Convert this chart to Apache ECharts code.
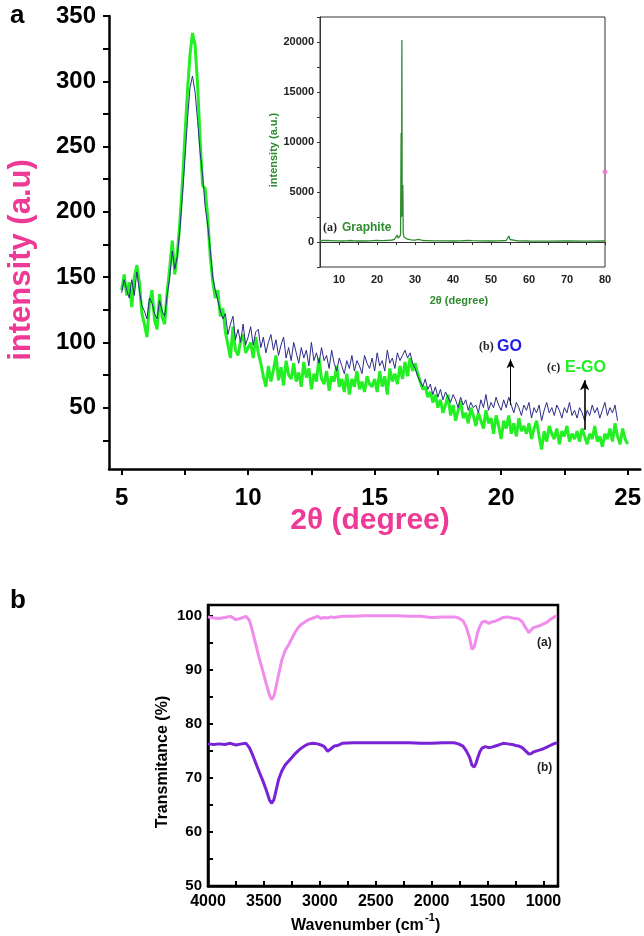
<!DOCTYPE html>
<html><head><meta charset="utf-8">
<script src="https://cdn.jsdelivr.net/npm/echarts@6/dist/echarts.min.js"></script>
<style>html,body{margin:0;padding:0;background:#fff}#c{width:644px;height:936px}</style>
</head><body><div id="c"></div>
<script>
// ---- Panel a: XRD (2θ sampled from 5.0 in steps of 0.1) ----
const thetaStart = 5.0, thetaStep = 0.1;
const egoIntensity = [
 140,152,136,146,127,150,159,146,122,114,
 104,130,140,117,110,137,119,114,139,157,
 178,152,168,192,222,258,292,320,337,328,
 298,256,220,218,196,166,147,134,140,120,
 126,108,98,88,112,94,90,101,106,92,
 96,100,88,104,92,84,74,66,82,70,
 79,90,71,81,67,86,75,72,84,70,
 77,66,85,73,80,64,76,70,88,72,
 68,78,63,74,70,82,66,72,62,76,
 60,72,66,78,64,70,62,74,68,66,
 72,62,78,66,74,60,80,70,76,68,
 82,72,85,74,88,78,84,76,70,64,
 66,58,62,54,60,50,56,46,52,60,
 44,52,40,48,55,42,46,38,50,44,
 36,46,40,34,48,38,42,30,44,36,
 26,40,34,44,30,38,28,42,32,36,
 30,38,26,34,40,28,18,32,24,36,
 30,26,34,22,32,28,36,24,30,26,
 32,24,34,28,22,30,26,36,24,28,
 20,30,26,34,24,38,28,22,34,26,
 22];
const goIntensity = [
 138,148,140,134,148,136,154,140,128,124,
 118,134,130,122,118,132,124,120,136,150,
 170,156,166,186,212,240,270,295,304,292,
 270,246,228,204,190,172,150,140,132,124,
 118,122,106,114,120,102,110,100,114,98,
 104,112,98,108,110,96,104,92,100,106,
 94,102,90,98,104,88,96,86,100,92,
 84,96,88,94,82,100,86,92,84,96,
 86,90,80,94,84,78,88,82,76,86,
 80,90,78,86,82,76,90,84,80,88,
 78,92,82,86,78,94,84,88,80,92,
 86,90,94,88,92,84,80,74,70,66,
 72,64,68,60,66,58,64,56,62,58,
 54,60,56,50,58,52,56,48,54,50,
 52,46,56,50,60,48,54,50,58,52,
 48,56,50,58,52,46,54,50,44,52,
 48,54,42,50,46,52,40,48,54,46,
 50,44,52,48,42,50,46,54,44,48,
 42,50,46,40,48,44,52,46,50,42,
 48,54,44,50,46,52,40];
const mainXTicks = [5,7.5,10,12.5,15,17.5,20,22.5,25];
const mainXLabels = [5,10,15,20,25];
const mainYTicks = [25,50,75,100,125,150,175,200,225,250,275,300,325,350];
const mainYLabels = [50,100,150,200,250,300,350];
const goArrow = [[20.37,52],[20.37,87]];
const egoArrow = [[23.3,33],[23.3,71]];

// ---- Inset: graphite ----
const graphiteTheta = [5,6,7,8,9,10,11,12,13,14,15,16,17,18,19,20,21,22,23,24,
 24.6,25.0,25.3,25.6,26.0,26.2,26.35,26.42,26.48,26.55,26.62,26.7,26.8,26.9,27.1,27.5,28,29,30,31,
 32,33,35,38,40,42,44,44.5,45,47,50,52,54,54.4,54.7,55,55.5,57,60,65,70,75,80];
const graphiteInt = [140,160,150,130,110,120,100,110,150,120,100,110,100,110,130,150,140,150,170,200,
 260,420,700,380,450,700,10900,2500,8000,20200,2600,4000,5700,900,500,350,280,220,180,260,
 150,140,120,110,100,110,150,280,130,110,100,110,150,350,600,250,150,110,100,95,100,95,100];
const insetMarker = [[80,7035]];
const insetXTicks = [5,10,15,20,25,30,35,40,45,50,55,60,65,70,75,80];
const insetXLabels = [10,20,30,40,50,60,70,80];
const insetYTicks = [-2500,0,2500,5000,7500,10000,12500,15000,17500,20000,22500];
const insetYLabels = [0,5000,10000,15000,20000];

// ---- Panel b: FTIR ----
const ftirWave = [4000,3950,3900,3850,3800,3750,3700,3660,3630,3600,
 3570,3540,3510,3480,3450,3430,3410,3390,3370,3340,
 3310,3280,3250,3220,3190,3160,3130,3100,3060,3020,
 2990,2960,2930,2900,2870,2840,2800,2700,2600,2500,
 2400,2300,2200,2100,2000,1900,1800,1760,1720,1690,
 1660,1640,1620,1605,1590,1570,1550,1520,1490,1460,
 1430,1400,1360,1320,1280,1250,1220,1190,1160,1130,
 1110,1090,1060,1030,1000,970,940,910,880];
const ftirA = [99.8,99.6,99.5,99.7,99.9,99.3,99.6,99.9,99.2,97.0,
 94.5,92.0,89.8,87.5,85.3,84.5,85.2,87.0,89.0,91.8,
 93.6,94.6,95.8,97.0,97.9,98.5,98.9,99.3,99.6,99.9,
 99.5,99.7,99.6,99.8,99.7,99.8,99.9,99.9,100,100,
 100,100,99.9,99.9,99.7,99.8,99.8,99.6,99.1,97.9,
 95.8,93.8,94.2,95.4,96.8,98.0,98.8,99.0,98.6,98.9,
 99.0,99.3,99.7,99.8,99.6,99.5,99.4,98.9,97.8,96.9,
 97.4,97.8,98.0,98.2,98.5,98.8,99.3,99.7,100];
const ftirB = [76.3,76.2,76.3,76.2,76.4,76.1,76.3,76.4,75.6,74.2,
 72.6,71.0,69.5,67.8,65.9,65.3,66.0,67.8,69.6,71.3,
 72.4,73.1,73.8,74.5,75.1,75.6,76.0,76.3,76.4,76.3,
 76.1,75.8,74.9,75.4,75.9,76.0,76.4,76.5,76.5,76.5,
 76.5,76.5,76.5,76.4,76.4,76.5,76.5,76.3,75.9,75.0,
 73.8,72.4,72.0,72.6,73.6,74.8,75.5,75.8,75.6,75.7,
 75.9,76.1,76.4,76.3,76.2,76.0,75.9,75.6,75.0,74.4,
 74.5,74.8,75.0,75.2,75.4,75.7,76.0,76.3,76.5];
const ftirXTicks = [4000,3750,3500,3250,3000,2750,2500,2250,2000,1750,1500,1250,1000];
const ftirXLabels = [4000,3500,3000,2500,2000,1500,1000];
const ftirYTicks = [50,55,60,65,70,75,80,85,90,95,100];
const ftirYLabels = [50,60,70,80,90,100];

const thetaAt = i => +(thetaStart + i * thetaStep).toFixed(1);
const egoData = egoIntensity.map((v, i) => [thetaAt(i), v]);
const goData = goIntensity.map((v, i) => [thetaAt(i), v]);
const graphiteData = graphiteTheta.map((t, i) => [t, graphiteInt[i]]);
const ftirAData = ftirWave.map((w, i) => [w, ftirA[i]]);
const ftirBData = ftirWave.map((w, i) => [w, ftirB[i]]);

const F = 'Liberation Sans, Arial, sans-serif';
const SERIF = 'Liberation Serif, Times New Roman, serif';
const PINK = '#ee3a96';
const GREEN_IN = '#2e8b2e';
const plain = v => String(v);

const chart = echarts.init(document.getElementById('c'), null, {renderer: 'canvas'});
chart.setOption({
  animation: false,
  backgroundColor: '#fff',
  grid: [
    {left: 109, top: 16, width: 532, height: 453},
    {left: 320, top: 17, width: 285, height: 250, show: true, backgroundColor: '#fff', borderColor: '#333', borderWidth: 1, z: 5},
    {left: 208, top: 605, width: 350, height: 281, show: true, borderColor: '#000', borderWidth: 2.5}
  ],
  xAxis: [
    {gridIndex: 0, type: 'value', min: 4.5, max: 25.5,
     axisLine: {lineStyle: {color: '#000', width: 2.5}},
     axisTick: {customValues: mainXTicks, length: 6, lineStyle: {color: '#000', width: 2}},
     axisLabel: {customValues: mainXLabels, formatter: plain, fontSize: 24, fontWeight: 'bold', color: '#000', fontFamily: F, margin: 17},
     splitLine: {show: false}},
    {gridIndex: 1, type: 'value', min: 5, max: 80, z: 6,
     axisLine: {lineStyle: {color: '#333', width: 1}},
     axisTick: {customValues: insetXTicks, length: 3, lineStyle: {color: '#333'}},
     axisLabel: {customValues: insetXLabels, formatter: plain, fontSize: 11, fontWeight: 'bold', color: '#222', fontFamily: F, margin: 7},
     splitLine: {show: false}},
    {gridIndex: 2, type: 'value', min: 870, max: 4000, inverse: true,
     axisLine: {lineStyle: {color: '#000', width: 2.5}},
     axisTick: {inside: true, customValues: ftirXTicks, length: 5, lineStyle: {color: '#000', width: 2}},
     axisLabel: {customValues: ftirXLabels, formatter: plain, fontSize: 16, fontWeight: 'bold', color: '#000', fontFamily: F, margin: 8},
     splitLine: {show: false}}
  ],
  yAxis: [
    {gridIndex: 0, type: 'value', min: 3, max: 350,
     axisLine: {show: true, lineStyle: {color: '#000', width: 2.5}},
     axisTick: {show: true, customValues: mainYTicks, length: 6, lineStyle: {color: '#000', width: 2}},
     axisLabel: {customValues: mainYLabels, formatter: plain, fontSize: 24, fontWeight: 'bold', color: '#000', fontFamily: F, margin: 13},
     splitLine: {show: false}},
    {gridIndex: 1, type: 'value', min: -2500, max: 22500, z: 6,
     axisLine: {show: true, lineStyle: {color: '#333', width: 1}},
     axisTick: {show: true, customValues: insetYTicks, length: 3, lineStyle: {color: '#333'}},
     axisLabel: {customValues: insetYLabels, formatter: plain, fontSize: 11, fontWeight: 'bold', color: '#222', fontFamily: F, margin: 6},
     splitLine: {show: false}},
    {gridIndex: 2, type: 'value', min: 50, max: 102,
     axisLine: {show: true, lineStyle: {color: '#000', width: 2.5}},
     axisTick: {show: true, inside: true, customValues: ftirYTicks, length: 5, lineStyle: {color: '#000', width: 2}},
     axisLabel: {customValues: ftirYLabels, formatter: plain, fontSize: 15, fontWeight: 'bold', color: '#000', fontFamily: F, margin: 6},
     splitLine: {show: false}}
  ],
  series: [
    {name: 'E-GO', type: 'line', xAxisIndex: 0, yAxisIndex: 0, data: egoData, showSymbol: false, z: 2,
     lineStyle: {color: '#22f022', width: 3}, itemStyle: {color: '#22f022'},
     markLine: {silent: true, symbol: ['none', 'arrow'], symbolSize: [7, 10], label: {show: false},
       lineStyle: {color: '#000', width: 1.6, type: 'solid'},
       data: [[{coord: egoArrow[0]}, {coord: egoArrow[1]}]]}},
    {name: 'GO', type: 'line', xAxisIndex: 0, yAxisIndex: 0, data: goData, showSymbol: false, z: 3,
     lineStyle: {color: '#2c2c88', width: 1}, itemStyle: {color: '#2c2c88'},
     markLine: {silent: true, symbol: ['none', 'arrow'], symbolSize: [6, 9], label: {show: false},
       lineStyle: {color: '#000', width: 1, type: 'solid'},
       data: [[{coord: goArrow[0]}, {coord: goArrow[1]}]]}},
    {name: 'Graphite', type: 'line', xAxisIndex: 1, yAxisIndex: 1, data: graphiteData, showSymbol: false, z: 7,
     lineStyle: {color: GREEN_IN, width: 1.3}, itemStyle: {color: GREEN_IN}},
    {name: 'marker', type: 'scatter', xAxisIndex: 1, yAxisIndex: 1, data: insetMarker, symbolSize: 5, z: 8,
     itemStyle: {color: '#f07ac8'}},
    {name: '(a)', type: 'line', xAxisIndex: 2, yAxisIndex: 2, data: ftirAData, showSymbol: false,
     lineStyle: {color: '#f08cec', width: 3}, itemStyle: {color: '#f08cec'}},
    {name: '(b)', type: 'line', xAxisIndex: 2, yAxisIndex: 2, data: ftirBData, showSymbol: false,
     lineStyle: {color: '#7a22d6', width: 3}, itemStyle: {color: '#7a22d6'}}
  ],
  graphic: [
    {type: 'text', x: 10, y: 16, z: 20, style: {text: 'a', fontFamily: F, fontSize: 26, fontWeight: 'bold', fill: '#000', verticalAlign: 'middle'}},
    {type: 'text', x: 10, y: 601, z: 20, style: {text: 'b', fontFamily: F, fontSize: 26, fontWeight: 'bold', fill: '#000', verticalAlign: 'middle'}},
    {type: 'text', x: 21, y: 260, rotation: Math.PI / 2, z: 20, style: {text: 'intensity (a.u)', fontFamily: F, fontSize: 31, fontWeight: 'bold', fill: PINK, align: 'center', verticalAlign: 'middle'}},
    {type: 'text', x: 370, y: 521, z: 20, style: {text: '2θ (degree)', fontFamily: F, fontSize: 30, fontWeight: 'bold', fill: PINK, align: 'center', verticalAlign: 'middle'}},
    {type: 'text', x: 274, y: 150, rotation: Math.PI / 2, z: 20, style: {text: 'intensity (a.u.)', fontFamily: F, fontSize: 11, fontWeight: 'bold', fill: GREEN_IN, align: 'center', verticalAlign: 'middle'}},
    {type: 'text', x: 459, y: 301, z: 20, style: {text: '2θ (degree)', fontFamily: F, fontSize: 11, fontWeight: 'bold', fill: GREEN_IN, align: 'center', verticalAlign: 'middle'}},
    {type: 'text', x: 323, y: 228, z: 20, style: {text: '(a)', fontFamily: SERIF, fontSize: 12, fontWeight: 'bold', fill: '#222', verticalAlign: 'middle'}},
    {type: 'text', x: 342, y: 228, z: 20, style: {text: 'Graphite', fontFamily: F, fontSize: 12, fontWeight: 'bold', fill: GREEN_IN, verticalAlign: 'middle'}},
    {type: 'text', x: 479, y: 347, z: 20, style: {text: '(b)', fontFamily: SERIF, fontSize: 12, fontWeight: 'bold', fill: '#222', verticalAlign: 'middle'}},
    {type: 'text', x: 497, y: 347, z: 20, style: {text: 'GO', fontFamily: F, fontSize: 16, fontWeight: 'bold', fill: '#1e1ee6', verticalAlign: 'middle'}},
    {type: 'text', x: 547, y: 368, z: 20, style: {text: '(c)', fontFamily: SERIF, fontSize: 12, fontWeight: 'bold', fill: '#222', verticalAlign: 'middle'}},
    {type: 'text', x: 565, y: 368, z: 20, style: {text: 'E-GO', fontFamily: F, fontSize: 16, fontWeight: 'bold', fill: '#22ee22', verticalAlign: 'middle'}},
    {type: 'text', x: 537, y: 643, z: 20, style: {text: '(a)', fontFamily: F, fontSize: 12, fontWeight: 'bold', fill: '#222', verticalAlign: 'middle'}},
    {type: 'text', x: 537, y: 768, z: 20, style: {text: '(b)', fontFamily: F, fontSize: 12, fontWeight: 'bold', fill: '#222', verticalAlign: 'middle'}},
    {type: 'text', x: 163, y: 762, rotation: Math.PI / 2, z: 20, style: {text: 'Transmitance (%)', fontFamily: F, fontSize: 16, fontWeight: 'bold', fill: '#000', align: 'center', verticalAlign: 'middle'}},
    {type: 'text', x: 291, y: 926, z: 20, style: {text: 'Wavenumber (cm', fontFamily: F, fontSize: 16, fontWeight: 'bold', fill: '#000', align: 'left', verticalAlign: 'middle'}},
    {type: 'text', x: 425, y: 918, z: 20, style: {text: '-1', fontFamily: F, fontSize: 11, fontWeight: 'bold', fill: '#000', align: 'left', verticalAlign: 'middle'}},
    {type: 'text', x: 435, y: 926, z: 20, style: {text: ')', fontFamily: F, fontSize: 16, fontWeight: 'bold', fill: '#000', align: 'left', verticalAlign: 'middle'}}
  ]
});
</script>
</body></html>
